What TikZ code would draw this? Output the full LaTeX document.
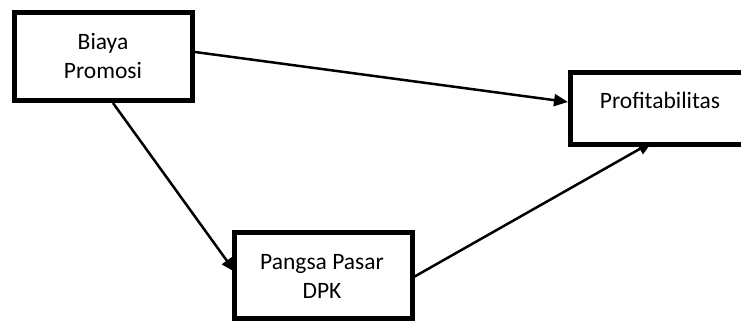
\documentclass[tikz,border=0pt]{standalone}
\usepackage{fontspec}
\setmainfont{Carlito}
\usetikzlibrary{arrows.meta}
\begin{document}
\begin{tikzpicture}[x=1pt,y=-1pt,
  box/.style={draw=black,line width=5pt,rectangle,inner sep=0pt,outer sep=0pt},
  lbl/.style={font=\fontsize{23.5}{29}\selectfont,align=center,inner sep=0pt},
  conn/.style={line width=2.5pt,-{Triangle[length=14pt,width=12pt]}}]
\useasboundingbox (0,0) rectangle (741,321);
\clip (0,0) rectangle (741,321);
\fill[white] (0,0) rectangle (741,321);
% boxes
\node[box,minimum width=178pt,minimum height=88pt] (biaya) at (103.5,56.5) {};
\node[box,minimum width=190pt,minimum height=72pt] (profit) at (665.5,108.5) {};
\node[box,minimum width=178pt,minimum height=86pt] (pangsa) at (323.5,275.5) {};
% labels
\node[lbl] (tbiaya) at (103,56) {Biaya\\Promosi};
\node[lbl,anchor=base] (tprofit) at (660,108) {Profitabilitas};
\node[lbl] (tpangsa) at (322,276) {Pangsa Pasar\\DPK};
% connector ends
\coordinate (b1) at (195,52);
\coordinate (b2) at (113,103);
\coordinate (p1) at (568,102);
\coordinate (p2) at (652,142);
\coordinate (g1) at (235,272);
\coordinate (g2) at (412,278);
\draw[conn] (b1) -- (p1);
\draw[conn] (b2) -- (g1);
\draw[conn] (g2) -- (p2);
\end{tikzpicture}
\end{document}
